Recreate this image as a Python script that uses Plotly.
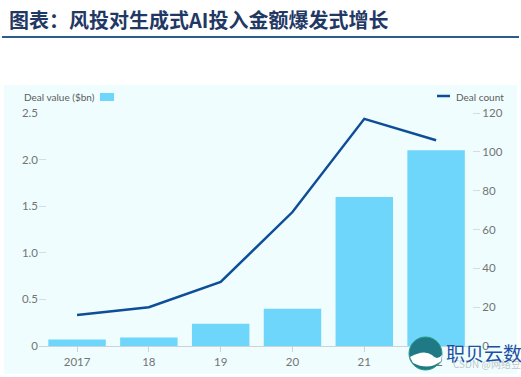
import plotly.graph_objects as go

W, H = 521, 377

categories = ["2017", "18", "19", "20", "21", "22"]
deal_value_bn = [0.07, 0.09, 0.24, 0.40, 1.60, 2.10]
deal_count = [16, 20, 33, 69, 117, 106]
left_ticks = [0, 0.5, 1.0, 1.5, 2.0, 2.5]
left_tick_labels = ["0", "0.5", "1.0", "1.5", "2.0", "2.5"]
right_ticks = [0, 20, 40, 60, 80, 100, 120]

title_text = "图表：风投对生成式AI投入金额爆发式增长"

def px(x):
    return x / W

def py(y):
    return 1 - y / H

BG = "#effdfe"
BAR = "#6dd6fa"
LINE = "#0e4d97"
TICK = "#747474"
FONT = "Lato, Noto Sans, sans-serif"

fig = go.Figure()
fig.add_trace(go.Bar(x=categories, y=deal_value_bn, marker_color=BAR,
                     marker_line_width=0, width=0.8, yaxis="y", showlegend=False))
fig.add_trace(go.Scatter(x=categories, y=deal_count, mode="lines",
                         line=dict(color=LINE, width=2.5), yaxis="y2", showlegend=False))

fig.update_layout(
    width=W, height=H,
    margin=dict(l=0, r=0, t=0, b=0, autoexpand=False),
    paper_bgcolor="white",
    plot_bgcolor="rgba(0,0,0,0)",
    bargap=0.2,
    font=dict(family=FONT, size=11, color=TICK),
    xaxis=dict(domain=[px(39), px(472)], range=[-0.53, 5.5], automargin=False,
               showgrid=False, zeroline=False, showline=True, linecolor="#c9d3da", linewidth=1,
               ticks="outside", ticklen=5, tickcolor="#c9d3da",
               tickfont=dict(family=FONT, size=11.5, color=TICK), anchor="y"),
    yaxis=dict(domain=[py(346), py(113)], range=[0, 2.5], automargin=False,
               tickvals=left_ticks, ticktext=left_tick_labels,
               showgrid=False, zeroline=False, showline=False,
               ticks="inside", ticklen=7, tickcolor="#d5dde3",
               tickfont=dict(family=FONT, size=11.5, color=TICK)),
    yaxis2=dict(domain=[py(346), py(113)], range=[0, 120], overlaying="y", side="right",
                automargin=False,
                tickvals=right_ticks, showgrid=False, zeroline=False, showline=False,
                ticks="outside", ticklen=7, tickcolor="#d5dde3", anchor="x",
                tickfont=dict(family=FONT, size=11.5, color=TICK)),
    shapes=[
        dict(type="rect", xref="paper", yref="paper", x0=px(4), x1=px(517), y0=py(374), y1=py(85),
             fillcolor=BG, line=dict(width=0), layer="below"),
        dict(type="line", xref="paper", yref="paper", x0=px(2), x1=px(519), y0=py(37), y1=py(37),
             line=dict(color="#2b5c8f", width=2)),
        dict(type="rect", xref="paper", yref="paper", x0=px(100), x1=px(114), y0=py(101), y1=py(93),
             fillcolor=BAR, line=dict(width=0)),
        dict(type="line", xref="paper", yref="paper", x0=px(437), x1=px(450), y0=py(96), y1=py(96),
             line=dict(color=LINE, width=2.5)),
        dict(type="circle", xref="paper", yref="paper", x0=px(409), x1=px(442), y0=py(370), y1=py(337),
             fillcolor="#1f7a86", line=dict(color="#2a9a8a", width=1), layer="above"),
        dict(type="path", xref="paper", yref="paper",
             path=f"M {px(410)} {py(357)} Q {px(424)} {py(349)} {px(432)} {py(355)} Q {px(437)} {py(361)} {px(442)} {py(355)} L {px(441)} {py(361)} Q {px(429)} {py(371)} {px(413)} {py(363)} Z",
             fillcolor="white", line=dict(width=0), layer="above"),
    ],
    annotations=[
        dict(text=title_text, xref="paper", yref="paper", x=px(7), y=py(20),
             xanchor="left", yanchor="middle", showarrow=False,
             font=dict(family="Noto Sans CJK SC", size=20, color="#1f3864", weight="bold")),
        dict(text="Deal value ($bn)", xref="paper", yref="paper", x=px(22), y=py(97),
             xanchor="left", yanchor="middle", showarrow=False,
             font=dict(family=FONT, size=10, color="#5c5c5c")),
        dict(text="Deal count", xref="paper", yref="paper", x=px(454), y=py(97),
             xanchor="left", yanchor="middle", showarrow=False,
             font=dict(family=FONT, size=10, color="#5c5c5c")),
        dict(text="CSDN @网络豆", xref="paper", yref="paper", x=px(487), y=py(363),
             xanchor="center", yanchor="middle", showarrow=False,
             font=dict(family="Noto Sans CJK SC", size=10, color="rgba(150,150,150,0.55)")),
        dict(text="职贝云数", xref="paper", yref="paper", x=px(484), y=py(352),
             xanchor="center", yanchor="middle", showarrow=False,
             font=dict(family="Noto Sans CJK SC", size=19, color="#1e4fa0")),
    ],
)

fig.write_html("out.html", config={"displayModeBar": False},
               post_script="document.body.style.margin='0';document.body.style.overflow='hidden';")
